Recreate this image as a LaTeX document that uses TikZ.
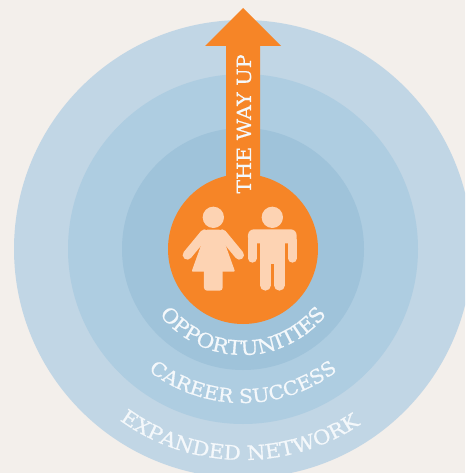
\documentclass[tikz,border=0pt]{standalone}
\usepackage{fontspec}
\usetikzlibrary{decorations.text}
\newfontfamily\slabfont[FakeBold=0.7,FakeStretch=1.07]{DejaVu Serif}
\newfontfamily\upfont[FakeBold=0.5,FakeStretch=1.06]{DejaVu Serif}
\definecolor{bgc}{HTML}{F3EFEB}
\definecolor{ringa}{HTML}{C1D6E5}
\definecolor{ringb}{HTML}{AECDE1}
\definecolor{ringc}{HTML}{9FC3DA}
\definecolor{orangec}{HTML}{F68527}
\definecolor{skinc}{HTML}{FDD3B3}
\definecolor{txtc}{HTML}{F4F8FB}
\tikzset{
  limb/.style={draw=skinc,line width=#1,line cap=round},
  fig/.style={fill=skinc,draw=skinc,line width=2pt,line join=round}
}
\begin{document}
\begin{tikzpicture}[x=1pt,y=-1pt]
\useasboundingbox (0,0) rectangle (465,473);
\clip (0,0) rectangle (465,473);
\fill[bgc] (0,0) rectangle (465,473);
\coordinate (c) at (243,249);
\fill[ringa] (c) circle[radius=229];
\fill[ringb] (c) circle[radius=175];
\fill[ringc] (c) circle[radius=121];
% arrow
\fill[orangec] (243,8) -- (281,46) -- (260,46) -- (260,200) -- (226,200) -- (226,46) -- (205,46) -- cycle;
\fill[orangec] (c) circle[radius=75];
\node[rotate=90,text=txtc,inner sep=0pt,font=\upfont\fontsize{19.5}{19.5}\selectfont] (wayup) at (244,124) {THE WAY UP};
% woman
\begin{scope}[shift={(130,160)},x=0.3333pt,y=-0.3333pt]
\fill[skinc] (250,172) circle[radius=32];
\draw[limb=28pt/3] (172,285) -- (224,222);
\draw[limb=28pt/3] (328,285) -- (276,222);
\fill[fig] (232,212) -- (268,212) -- (311,332) -- (189,332) -- cycle;
\fill[skinc,rounded corners=3pt] (222,320) rectangle (278,392);
% man
\fill[skinc] (427,172) circle[radius=32];
\fill[skinc,rounded corners=6pt] (354,208) rectangle (500,250);
\draw[limb=26pt/3] (367,240) -- (367,295);
\draw[limb=26pt/3] (487,240) -- (487,295);
\fill[skinc] (390,220) rectangle (464,312);
\draw[limb=32pt/3] (406,300) -- (406,376);
\draw[limb=32pt/3] (448,300) -- (448,376);
\end{scope}
% curved texts
\path[decorate,decoration={text along path,text align={align=center},text={|\slabfont\fontsize{20}{20}\selectfont\color{txtc}|OPPORTUNITIES}}]
  ([shift={(150:106)}]c) arc[start angle=150,end angle=30,radius=106];
\path[decorate,decoration={text along path,text align={align=center},text={|\slabfont\fontsize{19.2}{19.2}\selectfont\color{txtc}|CAREER SUCCESS}}]
  ([shift={(140:154)}]c) arc[start angle=140,end angle=40,radius=154];
\path[decorate,decoration={text along path,text align={align=center},text={|\slabfont\fontsize{20}{20}\selectfont\color{txtc}|EXPANDED NETWORK}}]
  ([shift={(136:211)}]c) arc[start angle=136,end angle=46,radius=211];
\end{tikzpicture}
\end{document}
